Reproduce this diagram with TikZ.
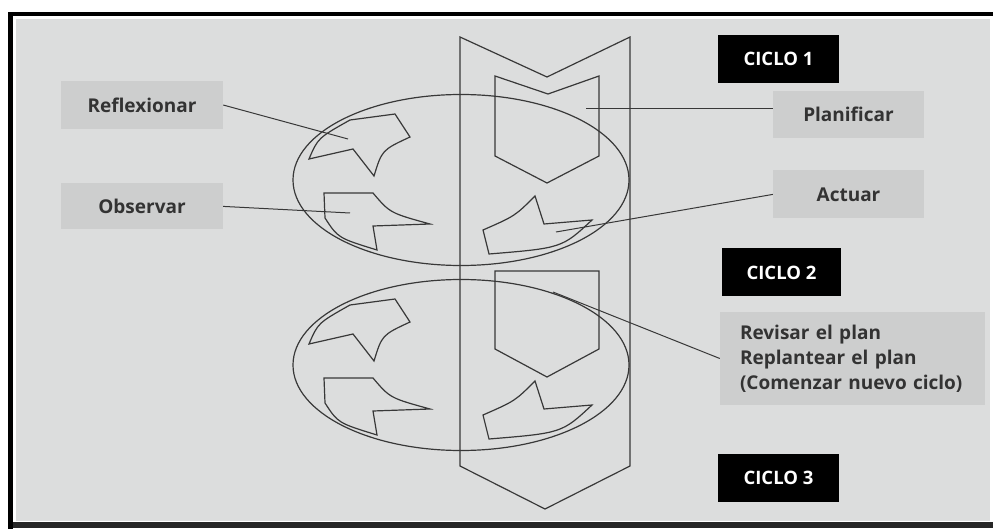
\documentclass[tikz,border=0pt]{standalone}
\usepackage{fontspec}
\setmainfont{Open Sans}
\usetikzlibrary{positioning}
\definecolor{PanelGray}{HTML}{DCDDDD}
\definecolor{TagGray}{HTML}{CDCECE}
\definecolor{InkGray}{HTML}{383838}
\definecolor{TagText}{HTML}{333333}

\begin{document}
\begin{tikzpicture}[
        x=1pt, y=-1pt,
        tagbox/.style={
          rectangle, fill=TagGray, inner sep=0pt,
          minimum width=151pt, minimum height=48pt,
          font=\fontsize{19}{25}\selectfont\bfseries\color{TagText}
        },
        cyclebox/.style={
          rectangle, fill=black, inner sep=0pt,
          minimum width=121pt, minimum height=48pt,
          font=\fontsize{18.5}{20}\selectfont\bfseries\color{white}
        },
        outline/.style={draw=InkGray, line width=1.2pt, line join=miter},
        leader/.style={InkGray, line width=1pt}
      ]
      % frame
      \fill[white] (0,0) rectangle (993,529);
      \fill[PanelGray] (16,19) rectangle (990,521);
      \fill[black] (8,12) rectangle (993,16);
      \fill[black] (8,12) rectangle (13,529);
      \fill[black!85] (13,522) rectangle (993,528);

      % band and cycles
      \draw[outline] (460,37) -- (547,77) -- (630,37) -- (630,466)
                     -- (545,509) -- (460,466) -- cycle;
      \draw[outline] (495,76) -- (548,94) -- (599,76) -- (599,156)
                     -- (547,183) -- (495,156) -- cycle;
      \draw[outline] (495,271) -- (599,271) -- (599,349)
                     -- (547,377) -- (495,349) -- cycle;
      \foreach \dy in {0,185} {
        \begin{scope}[shift={(0,\dy)}]
          \draw[outline] (461,180) ellipse [x radius=168, y radius=85.5];
          \draw[outline] (309,159) .. controls (318,138) .. (350,120)
                         -- (395,114) -- (410,137)
                         .. controls (382,150) .. (374,176)
                         -- (353,149) -- cycle;
          \draw[outline] (324,193) -- (373,193)
                         .. controls (390,213) .. (430,224)
                         -- (373,226) -- (377,250)
                         .. controls (338,238) .. (325,218) -- cycle;
          \draw[outline] (483,230) .. controls (515,216) .. (535,196)
                         -- (544,224) -- (592,220)
                         .. controls (562,248) .. (489,254) -- cycle;
        \end{scope}
      }

      \coordinate (reflpt) at (348,139);
      \coordinate (obspt)  at (350,213);
      \coordinate (planpt) at (586,109);
      \coordinate (actpt)  at (556,232);
      \coordinate (revpt)  at (553,292);

      % labels
      \node[tagbox, minimum width=162pt] (refl) at (142,105) {Reflexionar};
      \node[tagbox, minimum width=162pt, minimum height=46pt,
            below=54pt of refl] (obs) {Observar};
      \node[tagbox, minimum height=47pt] (plan) at (848.5,114.5) {Planificar};
      \node[tagbox, below=32pt of plan] (act) {Actuar};
      \node[tagbox, align=left, text width=225pt, inner xsep=20pt,
            minimum height=93pt] (rev) at (852.5,358.5)
            {Revisar el plan\\Replantear el plan\\(Comenzar nuevo ciclo)};

      \node[cyclebox] (c1) at (778.5,59) {CICLO 1};
      \node[cyclebox, minimum width=119pt] (c2) at (781.5,272.5) {CICLO 2};
      \node[cyclebox] (c3) at (778.5,477.5) {CICLO 3};

      \draw[leader] (refl.east) -- (reflpt);
      \draw[leader] (obs.east) -- (obspt);
      \draw[leader] (planpt -| plan.west) -- (planpt);
      \draw[leader] (act.west) -- (actpt);
      \draw[leader] (rev.west) -- (revpt);
    \end{tikzpicture}
\end{document}
